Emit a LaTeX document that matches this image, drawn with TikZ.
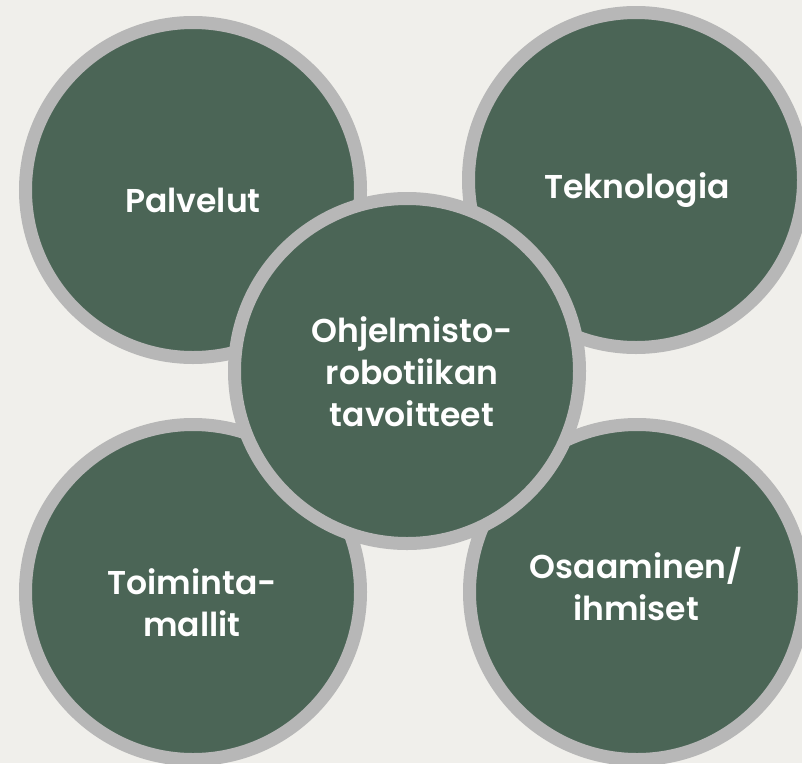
\documentclass[tikz,border=0pt]{standalone}
\usepackage{fontspec}
\setmainfont{Poppins}[BoldFont={Poppins SemiBold}, Ligatures=NoCommon]
\usepackage{tikz}

\definecolor{paper}{HTML}{F0EFEB}
\definecolor{leafgreen}{HTML}{4B6556}
\definecolor{ringgrey}{HTML}{B7B7B7}

\tikzset{
  topic/.style={circle, draw=ringgrey, fill=leafgreen, line width=13pt,
    minimum size=335pt, inner sep=0pt},
  caption/.style={text=white, align=center,
    font=\fontsize{33}{42}\selectfont\bfseries},
}

\begin{document}
\begin{tikzpicture}[x=1pt, y=-1pt]

    % Background
    \fill[paper] (0, 0) rectangle (802, 763);
    \useasboundingbox (0, 0) rectangle (802, 763);

    % Four outer circles
    \node[topic] (palvelut) at (193, 190) {};
    \node[topic] (teknologia) at (636, 180) {};
    \node[topic] (toiminta) at (193, 592) {};
    \node[topic] (osaaminen) at (637, 592) {};

    % The centre circle lies over the others
    \node[topic, minimum size=345pt] (tavoitteet) at (407, 371) {};

    % Texts
    \node[caption] (palvelut-txt) at (193, 200) {Palvelut};
    \node[caption] (teknologia-txt) at (637, 190) {Teknologia};
    \node[caption] (toiminta-txt) at (192, 603) {Toiminta-\\mallit};
    \node[caption] (osaaminen-txt) at (636, 584) {Osaaminen/\\ihmiset};
    \node[caption] (tavoitteet-txt) at (412, 372)
        {Ohjelmisto-\\robotiikan\\tavoitteet};
  \end{tikzpicture}
\end{document}
